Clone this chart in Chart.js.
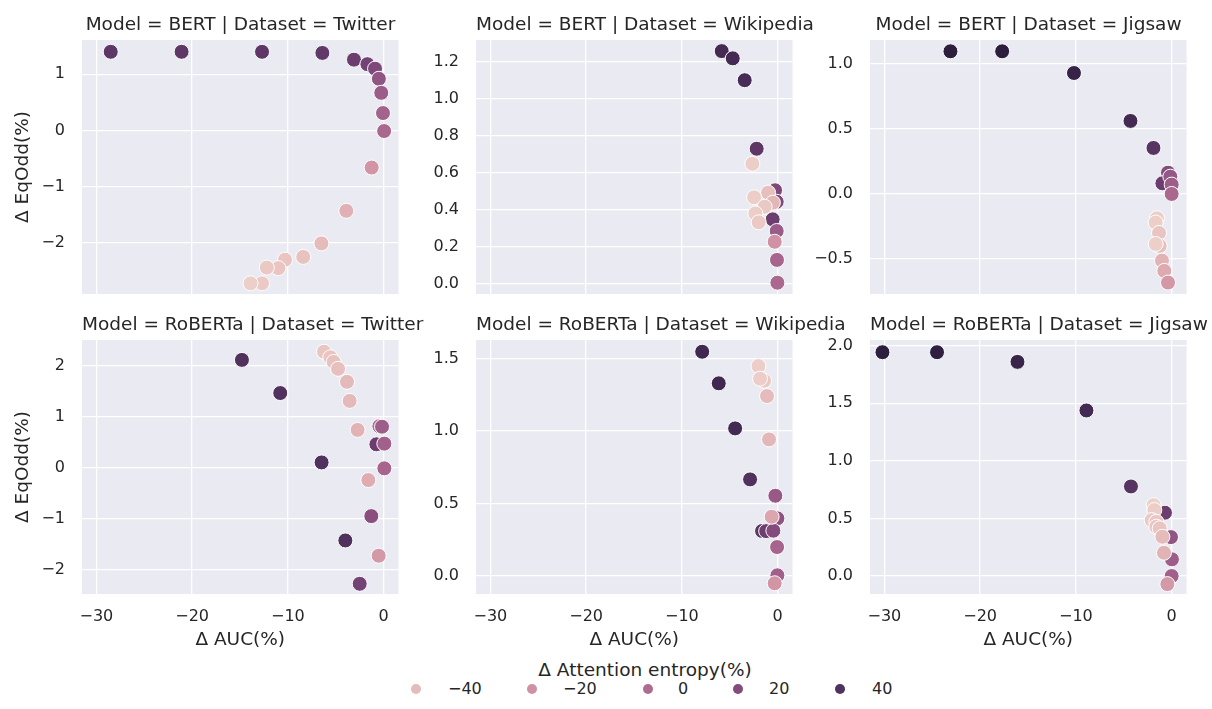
<!DOCTYPE html>
<html>
<head>
<meta charset="utf-8">
<script src="https://cdn.jsdelivr.net/npm/chart.js@4.4.0/dist/chart.umd.min.js"></script>
<style>
  body { margin: 0; background: #fff; font-family: "DejaVu Sans", sans-serif; color: #262626; }
  #fig { position: relative; width: 1212px; height: 709px; overflow: hidden; }
  .panel { position: absolute; }
  .panel canvas { display: block; }
  .ptitle { position: absolute; width: 317px; text-align: center; font-size: 18.5px; line-height: 22px; white-space: nowrap; }
  .lgtitle { position: absolute; left: 445px; width: 400px; top: 659px; text-align: center; font-size: 18.5px; line-height: 22px; }
  .lgdot { position: absolute; width: 10px; height: 10px; border-radius: 50%; }
  .lglab { position: absolute; font-size: 16px; line-height: 20px; white-space: nowrap; }
</style>
</head>
<body>
<div id="fig"></div>
<script>
// --- Данные ---
const xTickValues = [-30, -20, -10, 0];
const xTickLabels = ['−30', '−20', '−10', '0'];

// BERT | Twitter
const bertTwitterAuc     = [-28.5, -21.1, -12.7, -6.4, -3.1, -1.7, -0.9, -0.5, -0.25, -0.07, 0.05, -1.25, -3.9, -6.5, -8.4, -10.3, -11.0, -12.2, -12.7, -13.9];
const bertTwitterEqOdd   = [1.40, 1.40, 1.40, 1.38, 1.26, 1.18, 1.10, 0.92, 0.67, 0.31, -0.01, -0.66, -1.43, -2.01, -2.25, -2.30, -2.45, -2.44, -2.72, -2.72];
const bertTwitterEntropy = [35, 35, 35, 34, 30, 26, 22, 14, 9, 5, 2, -22, -35, -40, -43, -44, -44, -46, -47, -49];
const bertTwitterTicks   = [-2, -1, 0, 1];
const bertTwitterLabels  = ['−2', '−1', '0', '1'];

// BERT | Wikipedia
const bertWikiAuc     = [-5.84, -4.69, -3.44, -2.19, -2.64, -0.27, -0.1, -0.52, -1.0, -2.46, -0.5, -1.36, -2.33, -1.98, -0.1, -0.31, -0.07, -0.03];
const bertWikiEqOdd   = [1.257, 1.218, 1.10, 0.730, 0.649, 0.506, 0.444, 0.349, 0.493, 0.468, 0.439, 0.417, 0.381, 0.333, 0.286, 0.228, 0.130, 0.007];
const bertWikiEntropy = [45, 45, 44, 35, -48, 22, 22, 30, -42, -48, -38, -46, -48, -47, 10, -20, 4, 2];
const bertWikiTicks   = [0, 0.2, 0.4, 0.6, 0.8, 1.0, 1.2];
const bertWikiLabels  = ['0.0', '0.2', '0.4', '0.6', '0.8', '1.0', '1.2'];

// BERT | Jigsaw
const bertJigsawAuc     = [-23.1, -17.7, -10.2, -4.3, -1.9, -0.38, -0.97, -0.14, 0.0, 0.0, -1.53, -1.67, -1.32, -1.25, -1.67, -1.01, -0.77, -0.38];
const bertJigsawEqOdd   = [1.098, 1.098, 0.931, 0.562, 0.354, 0.164, 0.082, 0.133, 0.072, 0.0, -0.187, -0.22, -0.30, -0.40, -0.385, -0.513, -0.592, -0.682];
const bertJigsawEntropy = [55, 55, 51, 45, 38, 20, 30, 12, 8, 2, -48, -49, -44, -42, -49, -36, -32, -23];
const bertJigsawTicks   = [-0.5, 0, 0.5, 1.0];
const bertJigsawLabels  = ['−0.5', '0.0', '0.5', '1.0'];

// RoBERTa | Twitter
const robertaTwitterAuc     = [-6.23, -5.57, -5.22, -4.76, -3.83, -3.55, -14.8, -10.8, -2.72, -0.45, -0.17, -0.76, 0.07, -6.48, 0.07, -1.6, -1.29, -4.0, -0.52, -2.5];
const robertaTwitterEqOdd   = [2.28, 2.17, 2.08, 1.945, 1.69, 1.316, 2.12, 1.47, 0.747, 0.82, 0.81, 0.465, 0.478, 0.11, -0.006, -0.236, -0.943, -1.42, -1.72, -2.27];
const robertaTwitterEntropy = [-45, -44, -43, -42, -39, -39, 40, 40, -36, 0, 8, 30, 6, 40, 4, -33, 18, 40, -24, 26];
const robertaTwitterTicks   = [-2, -1, 0, 1, 2];
const robertaTwitterLabels  = ['−2', '−1', '0', '1', '2'];

// RoBERTa | Wikipedia
const robertaWikiAuc     = [-7.88, -6.15, -4.44, -2.88, -2.01, -1.42, -1.84, -1.11, -0.9, -0.24, -0.03, -1.63, -1.2, -0.45, -0.63, -0.06, -0.03, -0.31];
const robertaWikiEqOdd   = [1.548, 1.33, 1.019, 0.667, 1.449, 1.348, 1.362, 1.242, 0.943, 0.554, 0.398, 0.311, 0.31, 0.313, 0.409, 0.2, 0.005, -0.05];
const robertaWikiEntropy = [47, 47, 46, 40, -48, -46, -48, -40, -38, 11, 15, 36, 30, 20, -30, 4, 7, -22];
const robertaWikiTicks   = [0, 0.5, 1.0, 1.5];
const robertaWikiLabels  = ['0.0', '0.5', '1.0', '1.5'];

// RoBERTa | Jigsaw
const robertaJigsawAuc     = [-30.2, -24.5, -16.1, -8.9, -4.25, -0.7, -0.07, 0.03, 0.0, -1.88, -1.81, -2.09, -1.6, -1.6, -1.25, -0.97, -0.8, -0.45];
const robertaJigsawEqOdd   = [1.944, 1.944, 1.860, 1.438, 0.778, 0.55, 0.338, 0.145, 0.0, 0.616, 0.573, 0.486, 0.471, 0.428, 0.414, 0.341, 0.202, -0.07];
const robertaJigsawEntropy = [55, 54, 50, 46, 38, 30, 14, 8, 6, -50, -48, -47, -46, -45, -44, -40, -36, -24];
const robertaJigsawTicks   = [0, 0.5, 1.0, 1.5, 2.0];
const robertaJigsawLabels  = ['0.0', '0.5', '1.0', '1.5', '2.0'];

const legendValues = [-40, -20, 0, 20, 40];
const legendLabels = ['−40', '−20', '0', '20', '40'];

// --- Панели ---
const panels = [
  { model: 'BERT', dataset: 'Twitter', auc: bertTwitterAuc, eq: bertTwitterEqOdd, ent: bertTwitterEntropy, yMin: -2.91, yMax: 1.61, ticks: bertTwitterTicks, labels: bertTwitterLabels },
  { model: 'BERT', dataset: 'Wikipedia', auc: bertWikiAuc, eq: bertWikiEqOdd, ent: bertWikiEntropy, yMin: -0.054, yMax: 1.317, ticks: bertWikiTicks, labels: bertWikiLabels },
  { model: 'BERT', dataset: 'Jigsaw', auc: bertJigsawAuc, eq: bertJigsawEqOdd, ent: bertJigsawEntropy, yMin: -0.77, yMax: 1.185, ticks: bertJigsawTicks, labels: bertJigsawLabels },
  { model: 'RoBERTa', dataset: 'Twitter', auc: robertaTwitterAuc, eq: robertaTwitterEqOdd, ent: robertaTwitterEntropy, yMin: -2.47, yMax: 2.51, ticks: robertaTwitterTicks, labels: robertaTwitterLabels },
  { model: 'RoBERTa', dataset: 'Wikipedia', auc: robertaWikiAuc, eq: robertaWikiEqOdd, ent: robertaWikiEntropy, yMin: -0.124, yMax: 1.629, ticks: robertaWikiTicks, labels: robertaWikiLabels },
  { model: 'RoBERTa', dataset: 'Jigsaw', auc: robertaJigsawAuc, eq: robertaJigsawEqOdd, ent: robertaJigsawEntropy, yMin: -0.156, yMax: 2.05, ticks: robertaJigsawTicks, labels: robertaJigsawLabels }
];

// --- Палитра seaborn cubehelix (светлый -> тёмный) ---
function cubehelix(t) {
  t = Math.min(1, Math.max(0, t));
  const x = 0.85 + (0.15 - 0.85) * t;
  const a = 0.8 * x * (1 - x) / 2;
  const phi = 2 * Math.PI * (0.4 * x);
  const ch = (p0, p1) => Math.round(255 * Math.min(1, Math.max(0, x + a * (p0 * Math.cos(phi) + p1 * Math.sin(phi)))));
  return `rgb(${ch(-0.14861, 1.78277)},${ch(-0.29227, -0.90649)},${ch(1.97294, 0)})`;
}
const allEnt = panels.flatMap(p => p.ent);
const hueMin = Math.min(...allEnt), hueMax = Math.max(...allEnt);
const hueColor = (v) => cubehelix((v - hueMin) / (hueMax - hueMin));

// --- Геометрия ---
const plotLefts = [82, 476, 870], plotTops = [40, 340];
const plotW = 317, plotH = 254;
const textColor = '#262626';
const fig = document.getElementById('fig');

const bgPlugin = {
  id: 'bg',
  beforeDraw(chart) {
    const { ctx, chartArea: a } = chart;
    ctx.save();
    ctx.fillStyle = '#eaeaf2';
    ctx.fillRect(a.left, a.top, a.right - a.left, a.bottom - a.top);
    ctx.restore();
  }
};

panels.forEach((p, i) => {
  const row = Math.floor(i / 3), col = i % 3;
  // отступы больше, чем padding меток оси y (иначе Chart.js сам сдвигает область)
  const L = col === 0 ? 70 : 60, R = 8, T = 30, B = row === 1 ? 57 : 30;
  const box = document.createElement('div');
  box.className = 'panel';
  box.style.left = (plotLefts[col] - L) + 'px';
  box.style.top = (plotTops[row] - T) + 'px';
  const canvas = document.createElement('canvas');
  canvas.width = L + plotW + R;
  canvas.height = T + plotH + B;
  box.appendChild(canvas);
  fig.appendChild(box);

  const title = document.createElement('div');
  title.className = 'ptitle';
  title.style.left = plotLefts[col] + 'px';
  title.style.top = (row === 0 ? 13 : 313) + 'px';
  title.textContent = `Model = ${p.model} | Dataset = ${p.dataset}`;
  fig.appendChild(title);

  const points = p.auc.map((x, k) => ({ x, y: p.eq[k] }));

  new Chart(canvas, {
    type: 'scatter',
    data: { datasets: [{
      data: points,
      pointBackgroundColor: p.ent.map(hueColor),
      pointBorderColor: '#ffffff',
      pointBorderWidth: 1,
      pointRadius: 7.5,
      pointHoverRadius: 7.5
    }]},
    options: {
      responsive: false, animation: false, devicePixelRatio: 1,
      layout: { padding: { left: 0, right: R, top: T, bottom: 0 } },
      plugins: { legend: { display: false }, tooltip: { enabled: false } },
      scales: {
        x: {
          type: 'linear', min: -31.5, max: 1.55,
          grid: { color: '#ffffff', lineWidth: 1.3, drawTicks: false },
          border: { display: false },
          afterBuildTicks: (s) => { s.ticks = xTickValues.map(v => ({ value: v })); },
          afterFit: (s) => { s.height = B; },
          ticks: { display: row === 1, padding: 13, color: textColor, font: { family: 'DejaVu Sans', size: 16 },
                   callback: (v) => xTickLabels[xTickValues.indexOf(v)] },
          title: { display: row === 1, text: 'Δ AUC(%)', color: textColor, padding: 0, font: { family: 'DejaVu Sans', size: 18.5 } }
        },
        y: {
          type: 'linear', min: p.yMin, max: p.yMax,
          grid: { color: '#ffffff', lineWidth: 1.3, drawTicks: false },
          border: { display: false },
          afterBuildTicks: (s) => { s.ticks = p.ticks.map(v => ({ value: v })); },
          afterFit: (s) => { s.width = L; },
          ticks: { padding: 17, color: textColor, font: { family: 'DejaVu Sans', size: 16 },
                   callback: (v) => p.labels[p.ticks.indexOf(v)] },
          title: { display: col === 0, text: 'Δ EqOdd(%)', color: textColor, padding: 0, font: { family: 'DejaVu Sans', size: 18.5 } }
        }
      }
    },
    plugins: [bgPlugin]
  });
});

// --- Общая легенда ---
const lgTitle = document.createElement('div');
lgTitle.className = 'lgtitle';
lgTitle.textContent = 'Δ Attention entropy(%)';
fig.appendChild(lgTitle);

const dotX = [416, 532, 648, 738, 840];
const labX = [448, 563, 678, 769, 872];
legendValues.forEach((v, k) => {
  const dot = document.createElement('div');
  dot.className = 'lgdot';
  dot.style.left = (dotX[k] - 5) + 'px';
  dot.style.top = (689 - 5) + 'px';
  dot.style.background = hueColor(v);
  fig.appendChild(dot);
  const lab = document.createElement('div');
  lab.className = 'lglab';
  lab.style.left = labX[k] + 'px';
  lab.style.top = '679px';
  lab.textContent = legendLabels[k];
  fig.appendChild(lab);
});
</script>
</body>
</html>
